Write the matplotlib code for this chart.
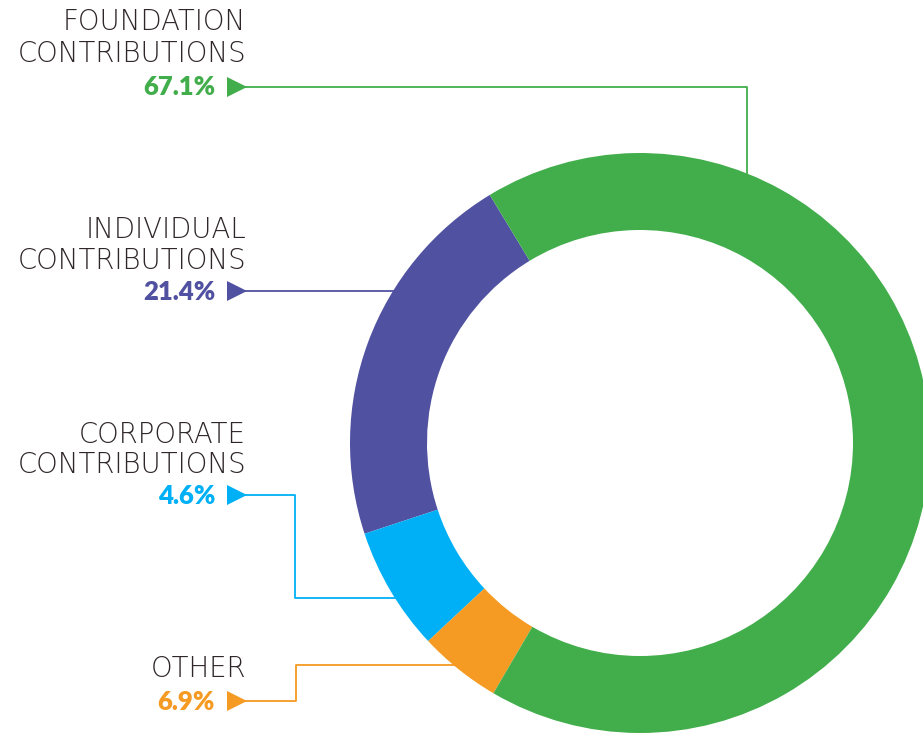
import numpy as np
import matplotlib.pyplot as plt

# category labels and the shares printed beside them
categories = ["FOUNDATION\nCONTRIBUTIONS", "INDIVIDUAL\nCONTRIBUTIONS",
              "CORPORATE\nCONTRIBUTIONS", "OTHER"]
shares = [67.1, 21.4, 4.6, 6.9]
colors = ["#41ae4b", "#5151a1", "#00b0f6", "#f59a22"]

# ring as drawn in the picture, counter-clockwise from the purple edge
ring_shares = [21.4, 6.9, 4.6, 67.1]
ring_colors = ["#5151a1", "#00b0f6", "#f59a22", "#41ae4b"]

W, H = 923, 734
fig = plt.figure(figsize=(W / 100, H / 100), dpi=100)
ax = fig.add_axes([0, 0, 1, 1])

cx, cy = 640, H - 443
ax.pie(ring_shares, colors=ring_colors, startangle=121.2, counterclock=True,
       radius=290, center=(cx, cy),
       wedgeprops=dict(width=77, edgecolor="none", zorder=3))

txt_col = "#2f2628"
# (label baselines, arrow y, leader path) in pixel rows from the top
label_rows = [(30, 62, 95), (238, 269, 300), (443, 473, 504), (677, 710)]
arrow_y = [87, 291, 495, 701]
paths = [
    [(245, 87), (747, 87), (747, 190)],
    [(245, 291), (410, 291)],
    [(245, 495), (295, 495), (295, 598), (410, 598)],
    [(245, 701), (296, 701), (296, 665), (470, 665)],
]

tx = 246
for cat, val, col, rows, ay, path in zip(categories, shares, colors,
                                         label_rows, arrow_y, paths):
    lines = cat.split("\n")
    for ln, r in zip(lines, rows):
        ax.text(tx, H - r, ln, ha="right", va="baseline", fontsize=19.8,
                color=txt_col, family="DejaVu Sans", fontweight="light")
    ax.text(tx - 31, H - rows[-1], f"{val}%", ha="right", va="baseline",
            fontsize=18.5, color=col, family="Lato", fontweight="heavy")
    xs = [p[0] for p in path]
    ys = [H - p[1] for p in path]
    ax.plot(xs, ys, color=col, lw=1.3, zorder=1)
    ax.plot([237], [H - ay], marker=">", markersize=15, color=col,
            markeredgewidth=0, zorder=2)

ax.set_xlim(0, W)
ax.set_ylim(0, H)
ax.set_aspect("auto")
ax.axis("off")

fig.savefig("out.png", dpi=100, facecolor="white")
